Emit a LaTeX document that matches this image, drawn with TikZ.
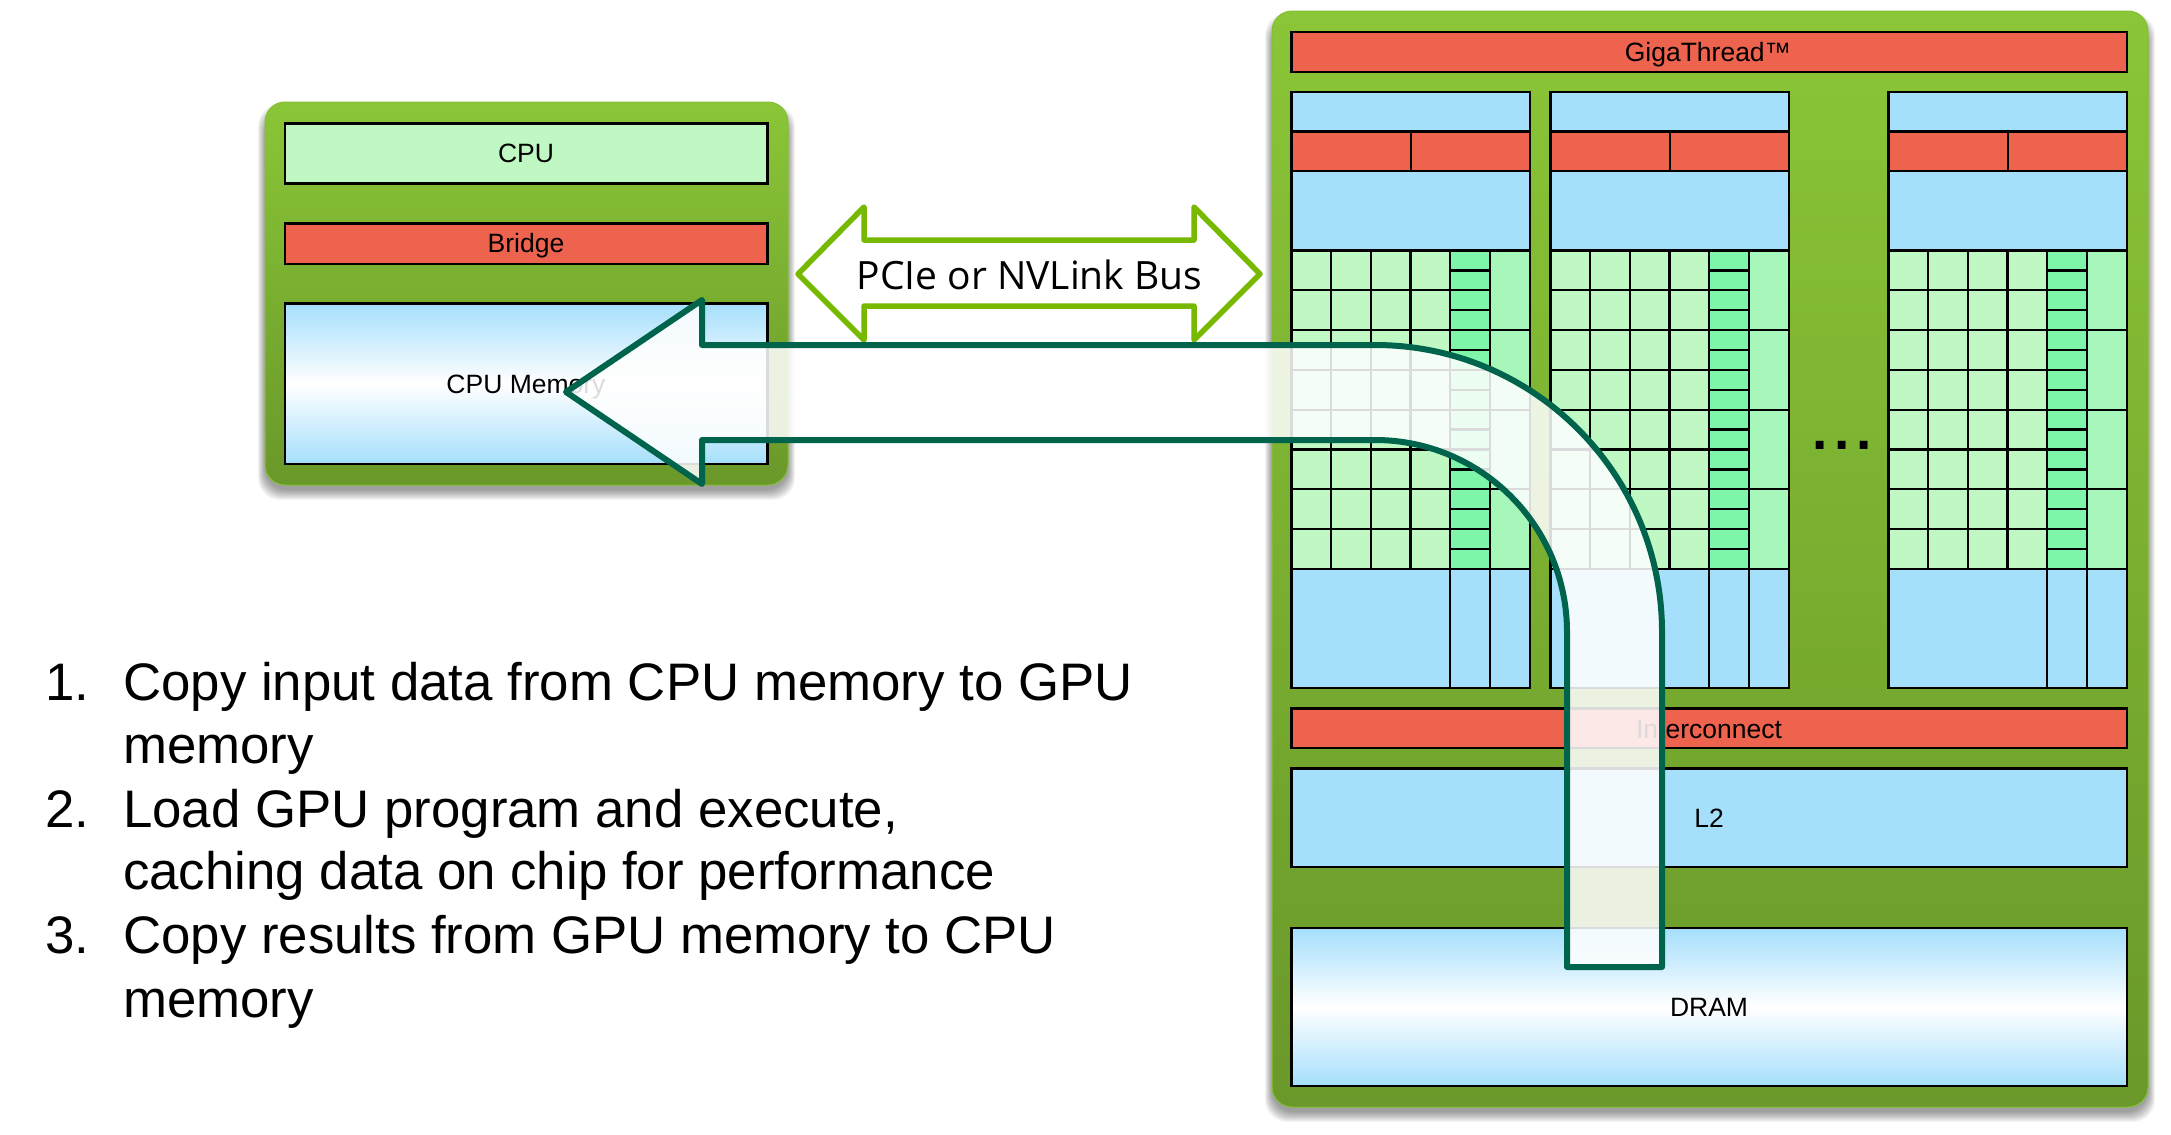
\documentclass[tikz,border=0pt]{standalone}
\usepackage{fontspec}
\setmainfont{Liberation Sans}
\newfontfamily\busfont{Open Sans}
\definecolor{gtop}{HTML}{8AC637}
\definecolor{gbot}{HTML}{6A982A}
\definecolor{blu}{HTML}{A5DFFC}
\definecolor{redd}{HTML}{EE634E}
\definecolor{lgrn}{HTML}{BFF8C3}
\definecolor{mgrn}{HTML}{A7F7BA}
\definecolor{dgrn}{HTML}{7FF5A9}
\definecolor{arrowc}{HTML}{00634C}
\definecolor{busc}{HTML}{76B900}
\tikzset{
  x=1pt,y=-1pt,
  cell/.style={draw=black,line width=2.3pt,line join=miter},
  chip/.style={rounded corners=20pt,top color=gtop,bottom color=gbot,draw=gtop!85!gbot,line width=1pt},
  shade box/.style={draw=black,line width=2.3pt,top color=blu,bottom color=blu,middle color=white},
  lbl/.style={font=\fontsize{26.5}{30}\selectfont,anchor=base,inner sep=0pt},
  item/.style={font=\fontsize{52.8}{60}\selectfont,anchor=base west,inner sep=0pt},
}
\newcommand{\cshadow}[4]{%
  \foreach \e in {10,9,...,0}{
    \fill[black,opacity=0.04,rounded corners=22pt] (#1-\e*0.7,#2+12-\e) rectangle (#3+\e*0.7,#4+5+\e);
  }}
\begin{document}
\begin{tikzpicture}
\useasboundingbox (0,0) rectangle (2171,1135);
\fill[white] (0,0) rectangle (2171,1135);

% CPU side
\cshadow{265}{102}{788}{485}
\path[chip] (265,102) rectangle (788,485);
\path[cell,fill=lgrn] (285,123.5) rectangle (767.5,183.5);
\path[cell,fill=redd] (285,223.5) rectangle (767.5,264);
\path[shade box] (285,303.5) rectangle (767.5,464);
\node[lbl] (cpu) at (526,162.5) {CPU};
\node[lbl] (bridge) at (526,252.5) {Bridge};
\node[lbl] (cpumem) at (526,393) {CPU Memory};

% GPU side
\cshadow{1272}{11}{2148}{1107}
\path[chip] (1272,11) rectangle (2148,1107);
\path[cell,fill=redd] (1291.5,32) rectangle (2127,72);
\node[lbl] (giga) at (1708,61) {GigaThread™};
\foreach \ox in {1291.5,1550.5,1888.5}{
  \begin{scope}[shift={(\ox,0)}]
    \path[cell,fill=blu] (0,92) rectangle (238.5,131.5);
    \path[cell,fill=redd] (0,131.5) rectangle (119.5,171);
    \path[cell,fill=redd] (119.5,131.5) rectangle (238.5,171);
    \path[cell,fill=blu] (0,171) rectangle (238.5,250.5);
    % small cores
    \foreach \c in {0,1,2,3}{
      \foreach \r in {0,...,7}{
        \path[cell,fill=lgrn] (\c*39.7,250.5+\r*39.8) rectangle ({(\c+1)*39.7},250.5+\r*39.8+39.8);
      }
    }
    % striped column
    \foreach \r in {0,...,15}{
      \path[cell,fill=dgrn] (158.8,250.5+\r*19.9) rectangle (198.8,250.5+\r*19.9+19.9);
    }
    % tall right column
    \foreach \r in {0,...,3}{
      \path[cell,fill=mgrn] (198.8,250.5+\r*79.6) rectangle (238.5,250.5+\r*79.6+79.6);
    }
    % bottom
    \path[cell,fill=blu] (0,569) rectangle (158.8,688);
    \path[cell,fill=blu] (158.8,569) rectangle (198.8,688);
    \path[cell,fill=blu] (198.8,569) rectangle (238.5,688);
  \end{scope}
}
\node[anchor=base,inner sep=0pt,font=\fontsize{55}{60}\selectfont\bfseries] (dots) at (1842,449.5) {.\hspace{6.7pt}.\hspace{6.7pt}.};
\path[cell,fill=redd] (1291.5,708.5) rectangle (2127,748);
\node[lbl] (inter) at (1709,738) {Interconnect};
\path[cell,fill=blu] (1291.5,768.5) rectangle (2127,867);
\node[lbl] (l2) at (1709,827) {L2};
\path[shade box] (1291.5,928) rectangle (2127,1086);
\node[lbl] (dram) at (1709,1016) {DRAM};

% PCIe bus double arrow
\path[draw=busc,fill=white,line width=5.5pt,line join=round]
  (798,274) -- (864,207) -- (864,240) -- (1194,240) -- (1194,207) -- (1260,274)
  -- (1194,340) -- (1194,306) -- (864,306) -- (864,340) -- cycle;
\node[anchor=base,inner sep=0pt,font=\busfont\fontsize{39}{44}\selectfont] (bus) at (1029.5,289.5) {PCIe or NVLink Bus};

% Big copy arrow
\path[draw=arrowc,fill=white,fill opacity=.86,draw opacity=1,line width=6pt,line join=round]
  (566,392) -- (702,300) -- (702,345) -- (1375,345)
  arc[start angle=-90,end angle=0,radius=287] -- (1662,967) -- (1567,967) -- (1567,632)
  arc[start angle=0,end angle=-90,radius=192] -- (702,440) -- (702,484) -- cycle;

% Steps
\node[item] (n1) at (45,700) {1.};
\node[item] (t1) at (123,700) {Copy input data from CPU memory to GPU};
\node[item] (t1b) at (123,763) {memory};
\node[item] (n2) at (45,827) {2.};
\node[item] (t2) at (123,827) {Load GPU program and execute,};
\node[item] (t2b) at (123,889) {caching data on chip for performance};
\node[item] (n3) at (45,953) {3.};
\node[item] (t3) at (123,953) {Copy results from GPU memory to CPU};
\node[item] (t3b) at (123,1017) {memory};
\end{tikzpicture}
\end{document}
